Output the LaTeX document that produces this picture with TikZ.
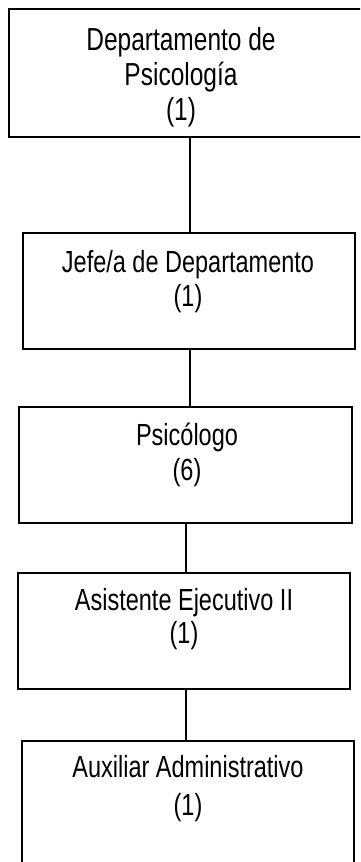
\documentclass[tikz,border=0pt]{standalone}
\usepackage{fontspec}
\usepackage{graphicx}
\setmainfont{Liberation Sans}
\newcommand{\tallt}[1]{\scalebox{1}[1.3]{#1}}
\begin{document}
\begin{tikzpicture}[x=1pt,y=1pt,
  boxst/.style={draw=black, line width=1.6pt, fill=white},
  conn/.style={draw=black, line width=1.3pt},
  txt/.style={anchor=base, inner sep=0pt, font=\fontsize{23.5}{28}\selectfont},
  bigtxt/.style={anchor=base, inner sep=0pt, font=\fontsize{24.5}{29}\selectfont}]
\useasboundingbox (0,0) rectangle (360,-862);
\clip (0,0) rectangle (360,-862);
\fill[white] (0,0) rectangle (360,-862);
% boxes
\path[boxst] (9,-9) rectangle (368,-137);
\coordinate (b1s) at (190,-137);
\path[boxst] (23,-233) rectangle (355,-349);
\coordinate (b2n) at (190,-233);
\coordinate (b2s) at (190,-349);
\path[boxst] (19,-407) rectangle (352,-523);
\coordinate (b3n) at (190,-407);
\coordinate (b3s) at (186,-523);
\path[boxst] (18,-573) rectangle (350,-689);
\coordinate (b4n) at (186,-573);
\coordinate (b4s) at (186,-689);
\path[boxst] (22,-741) rectangle (354,-875);
\coordinate (b5n) at (186,-741);
% connectors
\draw[conn] (b1s) -- (b2n);
\draw[conn] (b2s) -- (b3n);
\draw[conn] (b3s) -- (b4n);
\draw[conn] (b4s) -- (b5n);
% texts
\node[bigtxt] (t1a) at (181,-50) {\tallt{Departamento de}};
\node[bigtxt] (t1b) at (181,-85) {\tallt{Psicología}};
\node[bigtxt] (t1c) at (181,-120) {\tallt{(1)}};
\node[txt] (t2a) at (188,-272) {\tallt{Jefe/a de Departamento}};
\node[txt] (t2b) at (188,-306) {\tallt{(1)}};
\node[txt] (t3a) at (187,-445) {\tallt{Psicólogo}};
\node[txt] (t3b) at (187,-480) {\tallt{(6)}};
\node[txt] (t4a) at (184,-610) {\tallt{Asistente Ejecutivo II}};
\node[txt] (t4b) at (184,-643) {\tallt{(1)}};
\node[txt] (t5a) at (188,-777) {\tallt{Auxiliar Administrativo}};
\node[txt] (t5b) at (188,-815) {\tallt{(1)}};
\end{tikzpicture}
\end{document}
